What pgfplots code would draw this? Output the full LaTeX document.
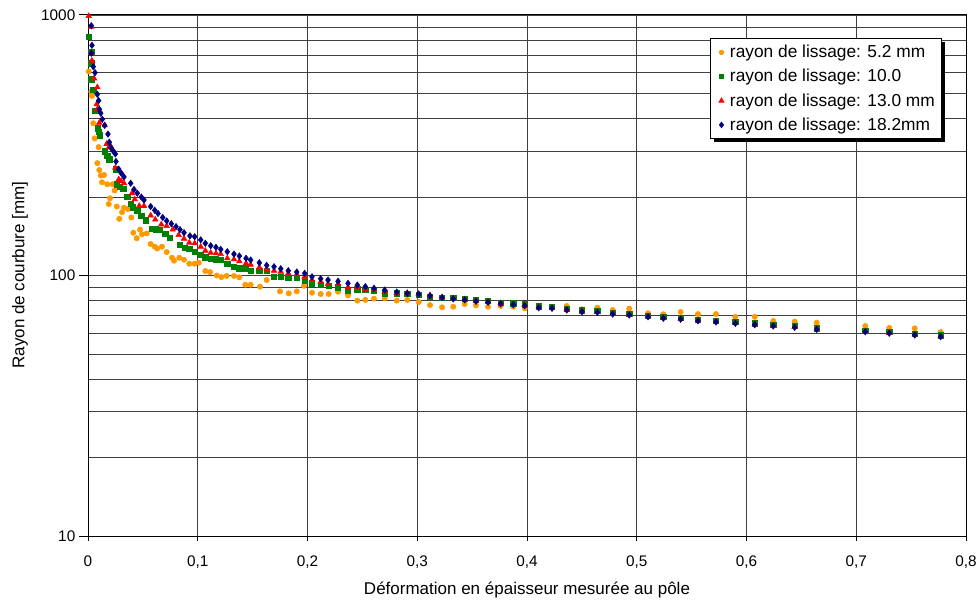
\documentclass[border=0pt]{standalone}
\usepackage{fontspec}
\setmainfont{Liberation Sans}
\usepackage{pgfplots}
\pgfplotsset{compat=1.18}
\usetikzlibrary{shadows}
\definecolor{cOrange}{HTML}{FF9900}
\definecolor{cGreen}{HTML}{008000}
\definecolor{cRed}{HTML}{FF0000}
\definecolor{cNavy}{HTML}{000080}
\begin{document}
\begin{tikzpicture}
\useasboundingbox (0,0) rectangle (735pt,450pt);
\begin{axis}[
  at={(66pt,48pt)}, anchor=south west,
  scale only axis, width=658.5pt, height=390.75pt,
  xmin=0, xmax=0.8, ymin=10, ymax=1000, ymode=log, log basis y=10,
  xtick={0,0.1,0.2,0.3,0.4,0.5,0.6,0.7,0.8},
  xticklabels={0,{0,1},{0,2},{0,3},{0,4},{0,5},{0,6},{0,7},{0,8}},
  ytick={10,100,1000}, yticklabels={10,100,1000},
  minor ytick={20,30,40,50,60,70,80,90,200,300,400,500,600,700,800,900},
  xtick pos=bottom, ytick pos=left,
  xmajorgrids, ymajorgrids, yminorgrids,
  major grid style={black!75, line width=0.6pt},
  minor grid style={black!75, line width=0.6pt},
  axis line style={black, line width=0.75pt},
  tick align=outside, major tick length=5pt, minor tick length=0pt,
  xtick style={black, line width=0.75pt, /pgfplots/major tick length=3.75pt},
  ytick style={black, line width=0.75pt, /pgfplots/major tick length=7pt},
  ticklabel style={font=\fontsize{11.5}{13}\selectfont},
  xticklabel style={yshift=-6pt},
  yticklabel style={xshift=-1pt},
  clip=false,
  legend style={at={(axis description cs:0.9727,0.9559)}, anchor=north east,
    draw=black, fill=white, line width=0.75pt,
    drop shadow={shadow xshift=2.5pt, shadow yshift=-2.5pt, fill=black, opacity=1},
    font=\fontsize{13}{15}\selectfont, row sep=3.2pt,
    inner xsep=3pt, inner ysep=3pt},
  legend cell align=left,
  legend image code/.code={\path (-4.5pt,0pt) (4pt,0pt); \draw[#1, mark options={scale=0.8}] plot coordinates {(0pt,0pt)};},
]
% 5.2 mm
\addplot[only marks, mark=*, mark size=2pt, color=cOrange] coordinates {
(0.0006,607) (0.0036,489) (0.0030,507) (0.0048,384) (0.0061,336) (0.0097,311)
(0.0085,270) (0.0103,254) (0.0116,242) (0.0146,243) (0.0128,228) (0.0176,224)
(0.0225,224) (0.0243,212) (0.0200,198) (0.0189,188) (0.0262,184) (0.0310,175)
(0.0285,165) (0.0328,182) (0.0364,180) (0.0395,167) (0.0413,146) (0.0474,150)
(0.0444,139) (0.0492,144) (0.0535,145) (0.0571,132) (0.0608,129) (0.0631,127)
(0.0674,129) (0.0717,123) (0.0765,117) (0.0784,114) (0.0832,117) (0.0875,115)
(0.0923,111) (0.0972,111) (0.1009,112) (0.1069,104) (0.1112,103) (0.1173,100)
(0.1215,98.6) (0.1264,99.6) (0.1330,99.6) (0.1379,98.4) (0.1433,92.2) (0.1482,92.2)
(0.1567,90.6) (0.1628,96.1) (0.1749,86.9) (0.1829,85.4) (0.1902,86.9) (0.1968,91.3)
(0.2041,85.9) (0.2120,84.9) (0.2193,84.9) (0.2278,86.6) (0.2369,83.9) (0.2454,80.1)
(0.2527,80.6) (0.2606,81.5) (0.2703,81.8) (0.2813,80.1) (0.2909,80.6) (0.3013,79.1)
(0.3116,77.0) (0.3226,75.5) (0.3328,75.9) (0.3432,77.7) (0.3535,76.8) (0.3645,75.9)
(0.3760,76.4) (0.3875,75.9) (0.3979,74.8) (0.4107,75.9) (0.4228,75.5) (0.4362,76.4)
(0.4501,74.2) (0.4641,75.2) (0.4781,73.7) (0.4932,74.6) (0.5103,71.6) (0.5242,71.0)
(0.5400,72.4) (0.5558,71.1) (0.5722,71.1) (0.5898,69.4) (0.6075,69.4) (0.6244,66.9)
(0.6439,66.5) (0.6640,65.9) (0.7082,64.0) (0.7301,62.9) (0.7533,62.7) (0.7769,60.7)
};
\addlegendentry{rayon de lissage: 5.2 mm}
% 10.0
\addplot[only marks, mark=square*, mark size=2pt, color=cGreen] coordinates {
(0.0006,825) (0.0030,723) (0.0030,653) (0.0030,566) (0.0048,515) (0.0067,429)
(0.0091,367) (0.0097,356) (0.0109,345) (0.0152,300) (0.0176,289) (0.0194,279)
(0.0255,256) (0.0262,224) (0.0292,219) (0.0322,215) (0.0358,200) (0.0389,189)
(0.0407,183) (0.0449,178) (0.0486,170) (0.0528,163) (0.0583,151) (0.0620,150.5)
(0.0656,149.6) (0.0704,145) (0.0747,140) (0.0838,131) (0.0881,128) (0.0923,127)
(0.0972,123.4) (0.1027,119.8) (0.1069,117.4) (0.1118,116) (0.1166,115.4) (0.1209,114.7)
(0.1269,110.7) (0.1330,108.1) (0.1379,106.6) (0.1440,106.6) (0.1482,104.1) (0.1561,104.3)
(0.1628,104.3) (0.1695,98.9) (0.1756,98.9) (0.1825,98.1) (0.1902,98.1) (0.1974,95.3)
(0.2041,93.3) (0.2120,91.9) (0.2193,91.1) (0.2278,90.1) (0.2369,87.4) (0.2454,88.5)
(0.2527,87.9) (0.2606,87.4) (0.2703,85.4) (0.2813,85.4) (0.2909,84.9) (0.3013,84.1)
(0.3116,82.9) (0.3226,82.0) (0.3328,82.3) (0.3432,81.6) (0.3535,80.6) (0.3645,79.8)
(0.3760,78.8) (0.3875,78.2) (0.3979,77.5) (0.4107,76.1) (0.4228,75.7) (0.4362,74.6)
(0.4501,73.5) (0.4641,73.1) (0.4781,72.0) (0.4932,71.3) (0.5103,70.2) (0.5242,69.3)
(0.5400,68.7) (0.5558,67.8) (0.5722,67.1) (0.5898,66.3) (0.6075,65.5) (0.6244,64.8)
(0.6439,64.0) (0.6640,62.8) (0.7082,61.5) (0.7301,60.7) (0.7533,59.8) (0.7769,58.9)
};
\addlegendentry{rayon de lissage: 10.0}
% 13.0 mm
\addplot[only marks, mark=triangle*, mark size=2.4pt, color=cRed] coordinates {
(0.0006,991) (0.0030,902) (0.0030,717) (0.0036,668) (0.0055,571) (0.0085,528)
(0.0079,454) (0.0085,435) (0.0103,386) (0.0152,377) (0.0170,320) (0.0207,314)
(0.0189,310) (0.0249,259) (0.0280,234) (0.0303,230) (0.0328,226) (0.0401,207)
(0.0426,196) (0.0467,185) (0.0510,185) (0.0571,170) (0.0613,164) (0.0668,157)
(0.0717,155) (0.0772,150) (0.0826,143) (0.0875,138.5) (0.0923,133.7) (0.0972,132.9)
(0.1027,129.0) (0.1069,124.5) (0.1118,122.3) (0.1166,121.6) (0.1209,120.9) (0.1269,116.4)
(0.1330,115.4) (0.1379,113.3) (0.1440,111.4) (0.1482,110.0) (0.1561,107.5) (0.1628,105.6)
(0.1695,104.3) (0.1756,103.4) (0.1825,101.9) (0.1902,101.1) (0.1974,98.9) (0.2041,96.1)
(0.2120,94.7) (0.2187,92.8) (0.2278,92.8) (0.2369,90.1) (0.2454,89.8) (0.2527,88.5)
(0.2606,87.9) (0.2703,86.6) (0.2813,85.9) (0.2909,85.8) (0.3013,85.1) (0.3116,84.0)
(0.3226,82.6) (0.3328,81.7) (0.3432,81.0) (0.3535,80.0) (0.3645,79.3) (0.3760,78.3)
(0.3875,77.7) (0.3979,77.0) (0.4107,75.6) (0.4228,75.2) (0.4362,74.1) (0.4501,73.0)
(0.4641,72.6) (0.4781,71.5) (0.4932,70.9) (0.5103,69.8) (0.5242,68.8) (0.5400,68.2)
(0.5558,67.3) (0.5722,66.6) (0.5898,65.8) (0.6075,65.0) (0.6244,64.3) (0.6439,63.5)
(0.6640,62.4) (0.7082,61.1) (0.7301,60.3) (0.7533,59.4) (0.7769,58.5)
};
\addlegendentry{rayon de lissage: 13.0 mm}
% 18.2 mm
\addplot[only marks, mark=diamond*, mark size=2.4pt, color=cNavy] coordinates {
(0.0030,910) (0.0036,765) (0.0030,713) (0.0048,633) (0.0064,601) (0.0085,496)
(0.0097,469) (0.0103,435) (0.0116,420) (0.0130,398) (0.0152,377) (0.0182,349)
(0.0194,325) (0.0207,310) (0.0231,300) (0.0249,293) (0.0255,274) (0.0280,256)
(0.0303,247) (0.0328,239) (0.0389,226) (0.0419,214) (0.0449,207) (0.0486,200)
(0.0510,195) (0.0571,184) (0.0608,178) (0.0638,173) (0.0681,167) (0.0717,162)
(0.0759,158) (0.0802,154) (0.0838,150) (0.0875,146) (0.0929,142) (0.0972,140.9)
(0.1027,137) (0.1069,132.9) (0.1118,130.1) (0.1166,128.3) (0.1209,126) (0.1269,123.4)
(0.1330,120.9) (0.1379,118.8) (0.1440,116.4) (0.1482,114.7) (0.1561,111.9) (0.1628,109.4)
(0.1695,108.1) (0.1756,106.2) (0.1825,104.3) (0.1902,103.1) (0.1974,101.9) (0.2041,98.9)
(0.2120,97.2) (0.2187,96.1) (0.2278,95.0) (0.2369,93.3) (0.2454,91.9) (0.2527,90.6)
(0.2606,89.3) (0.2703,87.9) (0.2813,86.4) (0.2909,85.4) (0.3013,84.7) (0.3116,83.6)
(0.3226,82.2) (0.3328,81.3) (0.3432,80.6) (0.3535,79.6) (0.3645,78.9) (0.3760,77.9)
(0.3875,77.3) (0.3979,76.6) (0.4107,75.2) (0.4228,74.8) (0.4362,73.7) (0.4501,72.6)
(0.4641,72.2) (0.4781,71.1) (0.4932,70.5) (0.5103,69.4) (0.5242,68.5) (0.5400,67.9)
(0.5558,67.0) (0.5722,66.3) (0.5898,65.5) (0.6075,64.7) (0.6244,64.0) (0.6439,63.2)
(0.6640,62.1) (0.7082,60.8) (0.7301,60.0) (0.7533,59.1) (0.7769,58.2)
};
\addlegendentry{rayon de lissage: 18.2mm}
\end{axis}
\node[font=\fontsize{12.75}{15}\selectfont] at (395.25pt,7.5pt) {Déformation en épaisseur mesurée au pôle};
\node[rotate=90, font=\fontsize{12.75}{15}\selectfont] at (15pt,243.75pt) {Rayon de courbure [mm]};
\end{tikzpicture}
\end{document}
